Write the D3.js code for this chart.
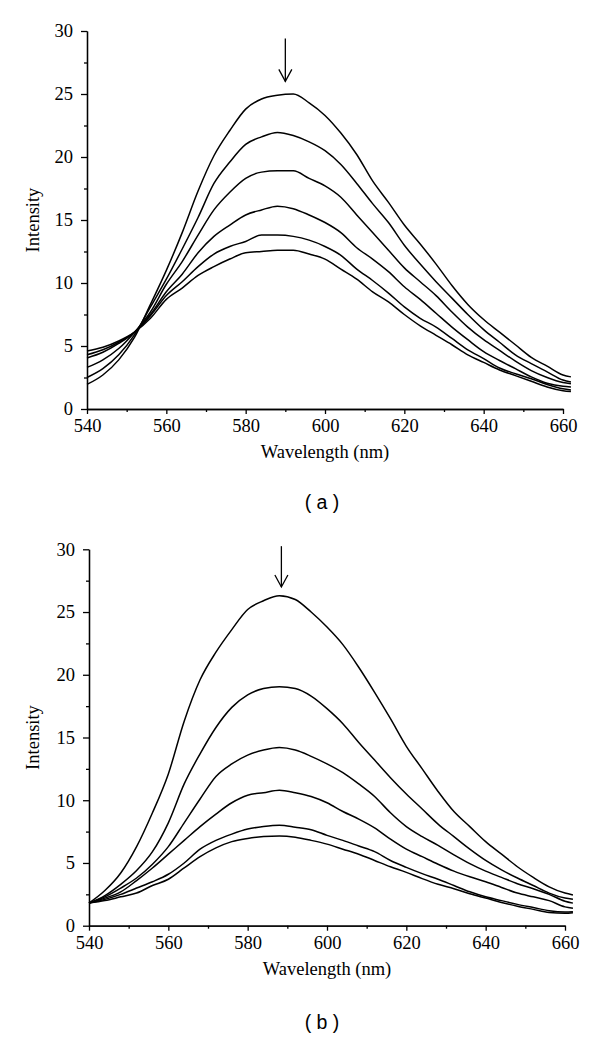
<!DOCTYPE html>
<html>
<head>
<meta charset="utf-8">
<script src="https://cdn.jsdelivr.net/npm/d3@7"></script>
<style>
  html, body { margin: 0; padding: 0; background: #fff; }
  svg { display: block; }
  .tick text { font-family: "Liberation Serif", "Times New Roman", serif; font-size: 18.5px; fill: #000; }
  .axis path, .axis line { stroke: #000; stroke-width: 1.3; }
</style>
</head>
<body>
<svg id="chart" width="600" height="1040"></svg>
<script>
// ---- data ----
const wavelengths = [540,544,548,552,556,560,564,568,572,576,580,584,588,592,596,600,604,608,612,616,620,624,628,632,636,640,644,648,652,656,660,662];

// panel (a)
const a1 = [1.95,2.7,3.9,5.7,8.3,11.0,14.0,17.3,20.1,22.1,23.8,24.6,24.9,25.0,24.3,23.3,21.9,20.2,18.1,16.4,14.6,13.1,11.5,9.8,8.3,7.1,6.1,5.1,4.1,3.4,2.7,2.55];
const a2 = [2.5,3.2,4.3,5.9,8.1,10.3,12.7,15.2,17.9,19.6,21.0,21.6,21.95,21.7,21.2,20.5,19.4,17.9,16.3,14.8,13.0,11.5,10.1,8.8,7.5,6.3,5.3,4.3,3.6,2.95,2.3,2.15];
const a3 = [3.3,3.9,4.8,6.1,7.7,9.9,11.7,13.8,15.8,17.2,18.3,18.8,18.9,18.9,18.3,17.7,16.8,15.4,14.0,12.6,11.2,10.1,9.0,7.7,6.5,5.5,4.65,3.8,3.05,2.5,2.1,2.0];
const a4 = [4.05,4.5,5.2,6.1,7.5,9.3,10.7,12.4,13.7,14.6,15.4,15.8,16.1,15.9,15.4,14.8,14.0,12.8,11.9,10.9,9.7,8.7,7.6,6.5,5.5,4.55,3.85,3.2,2.55,2.05,1.8,1.75];
const a5 = [4.3,4.7,5.3,6.1,7.4,9.0,10.1,11.3,12.3,12.9,13.3,13.8,13.8,13.7,13.4,12.9,12.2,11.1,10.2,9.2,8.1,7.2,6.5,5.6,4.7,4.0,3.25,2.8,2.4,1.95,1.6,1.5];
const a6 = [4.6,4.9,5.4,6.1,7.2,8.7,9.6,10.6,11.3,11.9,12.4,12.5,12.6,12.6,12.3,11.9,11.1,10.3,9.3,8.5,7.5,6.6,5.85,5.1,4.3,3.7,3.1,2.65,2.2,1.75,1.45,1.38];

// panel (b)
const b1 = [1.8,2.8,4.2,6.3,9.0,12.1,16.3,19.6,21.8,23.6,25.2,25.9,26.3,26.0,25.0,23.8,22.4,20.6,18.6,16.5,14.3,12.5,10.7,9.1,7.9,6.7,5.7,4.7,3.85,3.1,2.6,2.45];
const b2 = [1.8,2.4,3.3,4.4,5.9,8.2,11.3,13.7,15.8,17.4,18.4,18.9,19.05,18.9,18.3,17.3,16.1,14.6,13.2,11.8,10.5,9.3,8.1,7.1,6.1,5.2,4.45,3.8,3.2,2.6,2.2,2.1];
const b3 = [1.8,2.3,3.0,3.8,4.9,6.3,8.2,10.1,11.9,12.9,13.6,14.0,14.2,14.0,13.5,12.9,12.2,11.3,10.3,9.0,7.9,7.1,6.4,5.65,4.95,4.35,3.85,3.35,2.95,2.5,1.95,1.8];
const b4 = [1.8,2.2,2.7,3.6,4.6,5.7,6.8,7.9,8.9,9.8,10.4,10.6,10.8,10.6,10.3,9.8,9.1,8.5,7.8,6.9,6.1,5.5,4.9,4.35,3.9,3.5,3.05,2.6,2.3,2.0,1.5,1.4];
const b5 = [1.8,2.1,2.5,3.0,3.5,4.1,5.0,6.1,6.8,7.3,7.7,7.9,8.0,7.85,7.65,7.2,6.8,6.35,5.9,5.2,4.65,4.15,3.7,3.2,2.7,2.3,2.0,1.7,1.45,1.2,1.1,1.12];
const b6 = [1.8,2.0,2.3,2.6,3.2,3.7,4.6,5.5,6.2,6.7,6.95,7.1,7.15,7.05,6.8,6.5,6.1,5.7,5.2,4.7,4.25,3.75,3.3,2.95,2.55,2.2,1.85,1.55,1.3,1.05,1.0,1.04];

// axis ticks
const xMajorTicks = [540,560,580,600,620,640,660];
const xMinorTicks = [550,570,590,610,630,650];
const yMajorTicks = [0,5,10,15,20,25,30];
const yMinorTicks = [2.5,7.5,12.5,17.5,22.5,27.5];

// arrows [wavelength, from intensity, to intensity]
const arrowA = [590, 29.4, 26.0];
const arrowB = [588.5, 30.25, 27.0];

const xLabel = "Wavelength (nm)";
const yLabel = "Intensity";
const panelLabels = ["( a )", "( b )"];

// ---- drawing ----
const svg = d3.select("#chart");

const panels = [
  { series: [a1,a2,a3,a4,a5,a6], arrow: arrowA, label: panelLabels[0],
    left: 87, top: 31, width: 476, height: 378, labelY: 509 },
  { series: [b1,b2,b3,b4,b5,b6], arrow: arrowB, label: panelLabels[1],
    left: 89, top: 549.3, width: 476, height: 376.4, labelY: 1029 }
];

panels.forEach(p => {
  const x = d3.scaleLinear().domain([540, 660]).range([p.left, p.left + p.width]);
  const y = d3.scaleLinear().domain([0, 30]).range([p.top + p.height, p.top]);
  const g = svg.append("g");

  // y axis
  g.append("g").attr("class", "axis")
    .attr("transform", `translate(${p.left},0)`)
    .call(d3.axisLeft(y).tickValues(yMinorTicks).tickSize(3).tickSizeOuter(0).tickFormat(""));
  g.append("g").attr("class", "axis")
    .attr("transform", `translate(${p.left},0)`)
    .call(d3.axisLeft(y).tickValues(yMajorTicks).tickSize(6).tickSizeOuter(0).tickPadding(8).tickFormat(d3.format("d")));

  // x axis
  g.append("g").attr("class", "axis")
    .attr("transform", `translate(0,${p.top + p.height})`)
    .call(d3.axisBottom(x).tickValues(xMinorTicks).tickSize(3).tickSizeOuter(0).tickFormat(""));
  g.append("g").attr("class", "axis")
    .attr("transform", `translate(0,${p.top + p.height})`)
    .call(d3.axisBottom(x).tickValues(xMajorTicks).tickSize(5).tickSizeOuter(0).tickPadding(5).tickFormat(d3.format("d")));

  // lines
  const line = d3.line().curve(d3.curveMonotoneX).x((d, i) => x(wavelengths[i])).y(d => y(d));
  g.selectAll("path.curve").data(p.series).enter().append("path")
    .attr("class", "curve")
    .attr("d", line)
    .attr("fill", "none")
    .attr("stroke", "#000")
    .attr("stroke-width", 1.5)
    .attr("stroke-linejoin", "round");

  // arrow
  const ax = x(p.arrow[0]), ay1 = y(p.arrow[1]), ay2 = y(p.arrow[2]);
  g.append("line").attr("x1", ax).attr("x2", ax).attr("y1", ay1).attr("y2", ay2)
    .attr("stroke", "#000").attr("stroke-width", 1.3);
  g.append("path")
    .attr("d", `M${ax - 6.5},${ay2 - 12} L${ax},${ay2} L${ax + 6.5},${ay2 - 12}`)
    .attr("fill", "none").attr("stroke", "#000").attr("stroke-width", 1.3);

  // axis titles
  g.append("text")
    .attr("x", p.left + p.width / 2)
    .attr("y", p.top + p.height + 49)
    .attr("text-anchor", "middle")
    .attr("font-family", "Liberation Serif, Times New Roman, serif")
    .attr("font-size", 18.5)
    .text(xLabel);
  g.append("text")
    .attr("transform", `translate(39,${p.top + p.height / 2}) rotate(-90)`)
    .attr("text-anchor", "middle")
    .attr("font-family", "Liberation Serif, Times New Roman, serif")
    .attr("font-size", 18.5)
    .text(yLabel);

  // panel label
  svg.append("text")
    .attr("x", 322)
    .attr("y", p.labelY)
    .attr("text-anchor", "middle")
    .attr("font-family", "Liberation Sans, Arial, sans-serif")
    .attr("font-size", 19.5)
    .attr("xml:space", "preserve")
    .style("white-space", "pre")
    .text(p.label);
});
</script>
</body>
</html>
